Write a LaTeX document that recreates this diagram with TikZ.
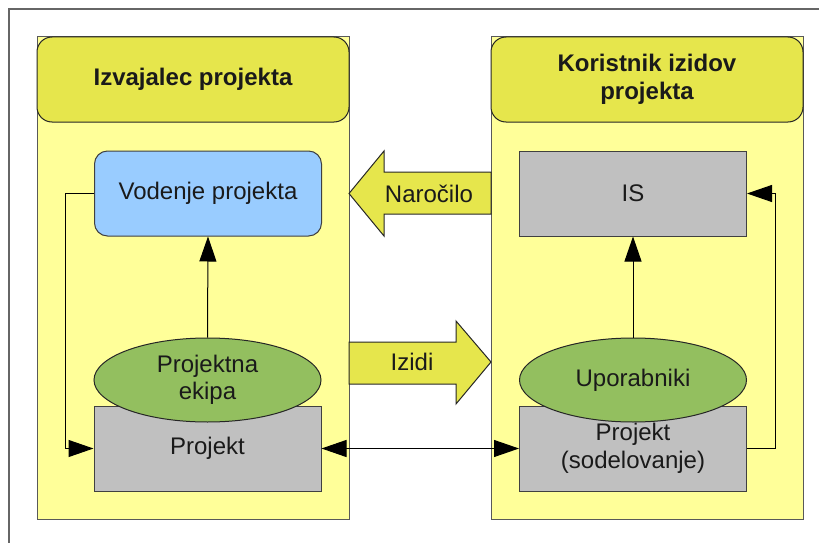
\documentclass[tikz,border=0pt]{standalone}
\usepackage{fontspec}
\setmainfont{Liberation Sans}
\usetikzlibrary{arrows.meta,shapes.geometric}
\definecolor{hdrYellow}{HTML}{E6E64C}
\definecolor{bodyYellow}{HTML}{FFFF99}
\definecolor{skyBlue}{HTML}{99CCFF}
\definecolor{boxGray}{HTML}{C0C0C0}
\definecolor{teamGreen}{HTML}{93BF5F}
\definecolor{inkDark}{HTML}{1A1A1A}
\tikzset{
  lbl/.style={font=\fontsize{24}{27.5}\selectfont, text=inkDark, align=center},
  body/.style={fill=bodyYellow, draw=black!65, line width=1pt},
  header/.style={lbl, font=\fontsize{24}{27.5}\selectfont\bfseries, fill=hdrYellow,
    draw=black!85, line width=1pt, rounded corners=15pt, inner sep=0pt,
    minimum width=312pt, minimum height=85pt},
  procbox/.style={lbl, draw=black!75, line width=1pt, inner sep=0pt,
    minimum width=227pt, minimum height=85pt},
  team/.style={lbl, ellipse, fill=teamGreen, draw=black!85, line width=1pt,
    inner sep=0pt, minimum width=227pt, minimum height=84pt},
  blockarrow/.style={fill=hdrYellow, draw=black!85, line width=1pt},
  flow/.style={draw=black, line width=1pt, -{Triangle[length=25pt,width=17pt]}},
  bothflow/.style={draw=black, line width=1pt,
    {Triangle[length=25pt,width=17pt]}-{Triangle[length=25pt,width=17pt]}}
}
\begin{document}
\begin{tikzpicture}[x=1pt,y=-1pt]
\useasboundingbox (0,0) rectangle (819,543);
% page frame
\draw[black!60, line width=1.3pt] (9,543) -- (9,9) -- (819,9);

% left column: contractor
\draw[body] (37,37) rectangle (349,519);
\node[header] (hL) at (193,79.5) {Izvajalec projekta};
% right column: user of the results
\draw[body] (491,37) rectangle (803,519);
\node[header] (hR) at (647,79.5) {Koristnik izidov\\projekta};

% boxes
\node[procbox, fill=skyBlue, rounded corners=13pt] (vod) at (208,193.5) {Vodenje projekta};
\node[procbox, fill=boxGray] (is) at (633,193.5) {IS};
\node[procbox, fill=boxGray] (proj) at (207.5,448.5) {Projekt};
\node[procbox, fill=boxGray] (projs) at (633,448.5) {Projekt\\(sodelovanje)};
\node[team] (ekipa) at (207.5,380) {Projektna\\ekipa};
\node[team] (upo) at (633,380) {Uporabniki};

% block arrows between the columns
\draw[blockarrow] (349,193.5) -- (384,151) -- (384,172) -- (491,172) -- (491,214)
  -- (384,214) -- (384,236) -- cycle;
\node[lbl] (naroc) at (429,193.5) {Naročilo};
\draw[blockarrow] (491,362) -- (456,321) -- (456,342) -- (349,342) -- (349,384)
  -- (456,384) -- (456,404) -- cycle;
\node[lbl] (izidi) at (412,362) {Izidi};

% connectors
\draw[flow] (ekipa.north) -- (vod.south);
\draw[flow] (upo.north) -- (is.south);
\draw[flow] (vod.west) -- ++(-29,0) |- (proj.west);
\draw[flow] (projs.east) -- ++(28,0) |- (is.east);
\draw[bothflow] (proj.east) -- (projs.west);
\end{tikzpicture}
\end{document}
